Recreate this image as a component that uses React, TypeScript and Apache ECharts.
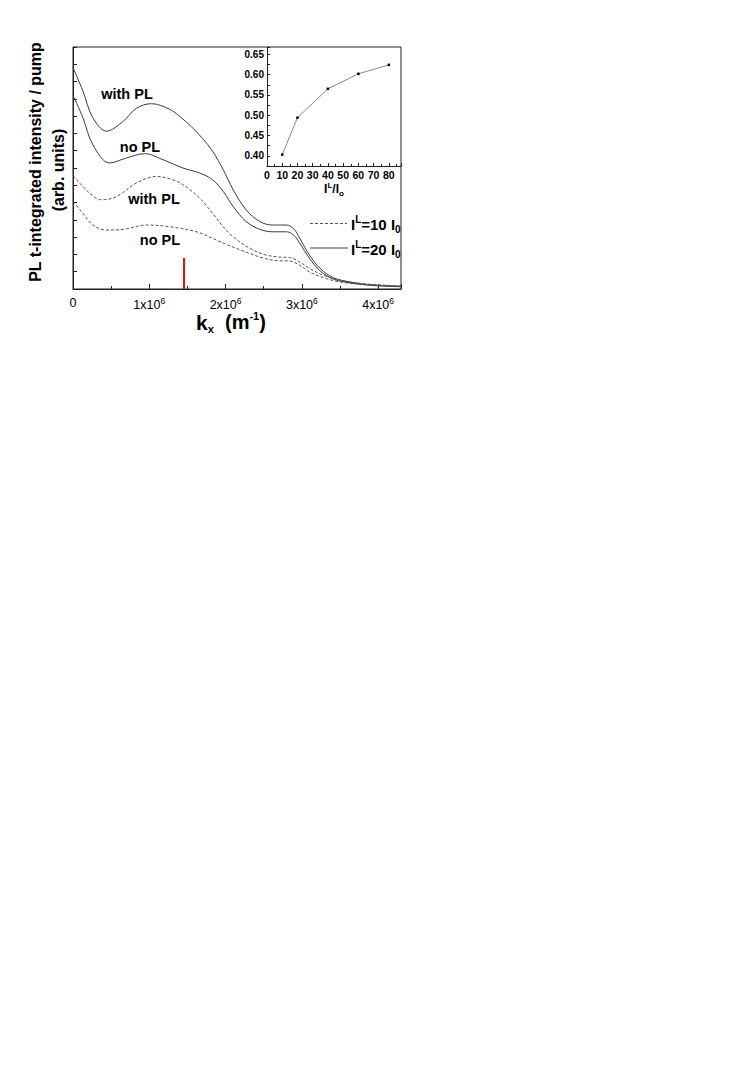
import React, { useEffect, useRef } from 'react';
import * as echarts from 'echarts';

// ---- main panel data (x in units of 1e6 m^-1, y in arb. units) ----
const solidWithPL_k = [0, 0.13, 0.26, 0.44, 0.66, 0.83, 1.03, 1.27, 1.4, 1.55, 1.7, 1.83, 1.97, 2.1, 2.27, 2.45, 2.62, 2.8, 2.9, 2.97, 3.1, 3.24, 3.41, 3.63, 3.93, 4.3];
const solidWithPL_v = [12.81, 11.45, 9.91, 9.13, 9.71, 10.45, 10.72, 10.39, 9.98, 9.4, 8.7, 7.97, 6.9, 5.74, 4.58, 3.9, 3.7, 3.7, 3.45, 2.95, 1.96, 1.19, 0.66, 0.41, 0.23, 0.16];

const solidNoPL_k = [0, 0.13, 0.26, 0.48, 0.7, 0.94, 1.18, 1.44, 1.66, 1.83, 1.97, 2.1, 2.27, 2.45, 2.62, 2.8, 2.9, 2.97, 3.1, 3.24, 3.41, 3.63, 3.93, 4.3];
const solidNoPL_v = [11.2, 9.91, 8.35, 7.29, 7.58, 7.83, 7.48, 7.0, 6.71, 6.32, 5.64, 4.77, 3.9, 3.45, 3.31, 3.31, 3.08, 2.67, 1.77, 1.05, 0.58, 0.35, 0.2, 0.13];

const dashedWithPL_k = [0, 0.13, 0.26, 0.37, 0.57, 0.83, 1.09, 1.35, 1.5, 1.66, 1.83, 1.97, 2.1, 2.3, 2.5, 2.7, 2.84, 2.97, 3.1, 3.28, 3.5, 3.8, 4.3];
const dashedWithPL_v = [6.56, 5.93, 5.39, 5.16, 5.35, 6.13, 6.51, 6.25, 5.85, 5.26, 4.38, 3.6, 3.02, 2.4, 2.0, 1.85, 1.82, 1.57, 1.19, 0.8, 0.51, 0.31, 0.17];

const dashedNoPL_k = [0, 0.13, 0.26, 0.44, 0.66, 0.96, 1.27, 1.62, 1.83, 2.0, 2.2, 2.45, 2.65, 2.84, 2.97, 3.1, 3.28, 3.5, 3.8, 4.3];
const dashedNoPL_v = [5.06, 4.38, 3.7, 3.41, 3.45, 3.7, 3.6, 3.31, 2.93, 2.6, 2.25, 1.85, 1.65, 1.62, 1.38, 0.99, 0.66, 0.41, 0.27, 0.15];

const markerK = [1.45];
const markerTop = [1.8];

// ---- inset data ----
const insetRatio = [10, 20, 40, 60, 80];
const insetValue = [0.403, 0.494, 0.565, 0.602, 0.624];

const FONT = '"Liberation Sans", Arial, sans-serif';

const zip = (xs: number[], ys: number[]) => xs.map((x, i) => [x, ys[i]]);

export default function App() {
  const ref = useRef<HTMLDivElement>(null);

  useEffect(() => {
    if (!ref.current) return;
    const chart = echarts.init(ref.current, undefined, { renderer: 'svg' });

    const lineCol = '#3a3a3a';
    const dashCol = '#555';

    const option: any = {
      animation: false,
      backgroundColor: '#fff',
      textStyle: { fontFamily: FONT },
      grid: [
        { left: 73, top: 47, width: 328, height: 242, show: true, borderColor: '#222', borderWidth: 1, backgroundColor: 'transparent' },
        { left: 267, top: 47, width: 134, height: 119, show: false },
      ],
      xAxis: [
        {
          type: 'value', gridIndex: 0, min: 0, max: 4.3, interval: 1,
          axisLine: { show: true, lineStyle: { color: '#222', width: 1 } },
          axisTick: { show: true, inside: true, length: 5, lineStyle: { color: '#222' } },
          minorTick: { show: true, splitNumber: 2, length: 3, lineStyle: { color: '#222' } },
          splitLine: { show: false },
          axisLabel: {
            margin: 7,
            formatter: (v: number) => {
              if (v === 0) return '{a|0}';
              if (Number.isInteger(v)) return `{a|${v}x10}{s|6}`;
              return '';
            },
            rich: {
              a: { fontSize: 12.5, fontFamily: FONT, color: '#000' },
              s: { fontSize: 8.5, fontFamily: FONT, color: '#000', padding: [0, 0, 9, 0] },
            },
          },
        },
        {
          type: 'value', gridIndex: 1, min: 0, max: 88, interval: 10,
          axisLine: { show: true, lineStyle: { color: '#222', width: 1 } },
          axisTick: { show: true, inside: true, length: 3, lineStyle: { color: '#222' } },
          minorTick: { show: true, splitNumber: 2, length: 2, lineStyle: { color: '#222' } },
          splitLine: { show: false },
          axisLabel: {
            margin: 3, fontSize: 10.5, fontWeight: 'bold', color: '#000', fontFamily: FONT,
            formatter: (v: number) => (Number.isInteger(v) && v <= 80 ? String(v) : ''),
          },
        },
      ],
      yAxis: [
        {
          type: 'value', gridIndex: 0, min: 0, max: 14, interval: 1,
          axisLine: { show: true, lineStyle: { color: '#222', width: 1 } },
          axisTick: { show: true, inside: true, length: 4, lineStyle: { color: '#222' } },
          axisLabel: { show: false },
          splitLine: { show: false },
        },
        {
          type: 'value', gridIndex: 1, min: 0.375, max: 0.668, interval: 0.025,
          axisLine: { show: true, lineStyle: { color: '#222', width: 1 } },
          axisTick: { show: true, inside: true, length: 3, lineStyle: { color: '#222' } },
          splitLine: { show: false },
          axisLabel: {
            margin: 3, fontSize: 10, fontWeight: 'bold', color: '#000', fontFamily: FONT,
            formatter: (v: number) => {
              const r = Math.round(v * 1000);
              if (r % 50 === 0 && v < 0.66) return (r / 1000).toFixed(2);
              return '';
            },
          },
        },
      ],
      series: [
        {
          name: 'solidWithPL', type: 'line', xAxisIndex: 0, yAxisIndex: 0, smooth: 0.35, showSymbol: false,
          data: zip(solidWithPL_k, solidWithPL_v),
          lineStyle: { color: lineCol, width: 1 },
          markLine: {
            silent: true, symbol: 'none', label: { show: false },
            lineStyle: { color: '#dd1111', width: 2, type: 'solid' },
            data: [[{ coord: [markerK[0], 0] }, { coord: [markerK[0], markerTop[0]] }]],
          },
        },
        {
          name: 'solidNoPL', type: 'line', xAxisIndex: 0, yAxisIndex: 0, smooth: 0.35, showSymbol: false,
          data: zip(solidNoPL_k, solidNoPL_v),
          lineStyle: { color: lineCol, width: 1 },
        },
        {
          name: 'dashedWithPL', type: 'line', xAxisIndex: 0, yAxisIndex: 0, smooth: 0.35, showSymbol: false,
          data: zip(dashedWithPL_k, dashedWithPL_v),
          lineStyle: { color: dashCol, width: 1, type: [3, 2] },
        },
        {
          name: 'dashedNoPL', type: 'line', xAxisIndex: 0, yAxisIndex: 0, smooth: 0.35, showSymbol: false,
          data: zip(dashedNoPL_k, dashedNoPL_v),
          lineStyle: { color: dashCol, width: 1, type: [3, 2] },
        },
        {
          name: 'inset', type: 'line', xAxisIndex: 1, yAxisIndex: 1, smooth: false,
          data: zip(insetRatio, insetValue),
          symbol: 'rect', symbolSize: 2.5, showSymbol: true,
          itemStyle: { color: '#000' },
          lineStyle: { color: '#888', width: 1 },
        },
      ],
      graphic: [
        {
          type: 'text', x: 35, y: 162, rotation: Math.PI / 2,
          style: { text: 'PL t-integrated intensity / pump', fontSize: 16, fontWeight: 'bold', fontFamily: FONT, fill: '#000', align: 'center', verticalAlign: 'middle', textAlign: 'center', textVerticalAlign: 'middle' },
        },
        {
          type: 'text', x: 58, y: 170, rotation: Math.PI / 2,
          style: { text: '(arb. units)', fontSize: 16, fontWeight: 'bold', fontFamily: FONT, fill: '#000', align: 'center', verticalAlign: 'middle', textAlign: 'center', textVerticalAlign: 'middle' },
        },
        {
          type: 'text', x: 231, y: 322,
          style: {
            text: '{k|k}{ks|x}{p|  (m}{sup|-1}{p|)}',
            align: 'center', verticalAlign: 'middle', textAlign: 'center', textVerticalAlign: 'middle',
            rich: {
              k: { fontSize: 21, fontWeight: 'bold', fontFamily: FONT, fill: '#000' },
              ks: { fontSize: 11, fontWeight: 'bold', fontFamily: FONT, fill: '#000', padding: [14, 0, 0, 0] },
              p: { fontSize: 20, fontWeight: 'bold', fontFamily: FONT, fill: '#000' },
              sup: { fontSize: 11, fontWeight: 'bold', fontFamily: FONT, fill: '#000', padding: [0, 0, 12, 0] },
            },
          },
        },
        { type: 'text', x: 127, y: 94, style: { text: 'with PL', fontSize: 14.5, fontWeight: 'bold', fontFamily: FONT, fill: '#000', align: 'center', verticalAlign: 'middle', textAlign: 'center', textVerticalAlign: 'middle' } },
        { type: 'text', x: 140, y: 147, style: { text: 'no PL', fontSize: 14.5, fontWeight: 'bold', fontFamily: FONT, fill: '#000', align: 'center', verticalAlign: 'middle', textAlign: 'center', textVerticalAlign: 'middle' } },
        { type: 'text', x: 154, y: 199, style: { text: 'with PL', fontSize: 14.5, fontWeight: 'bold', fontFamily: FONT, fill: '#000', align: 'center', verticalAlign: 'middle', textAlign: 'center', textVerticalAlign: 'middle' } },
        { type: 'text', x: 160, y: 240, style: { text: 'no PL', fontSize: 14.5, fontWeight: 'bold', fontFamily: FONT, fill: '#000', align: 'center', verticalAlign: 'middle', textAlign: 'center', textVerticalAlign: 'middle' } },
        { type: 'line', shape: { x1: 310, y1: 223.5, x2: 347, y2: 223.5 }, style: { stroke: dashCol, lineWidth: 1, lineDash: [3, 2] } },
        { type: 'line', shape: { x1: 310, y1: 248, x2: 348, y2: 248 }, style: { stroke: lineCol, lineWidth: 1 } },
        {
          type: 'text', x: 351, y: 224,
          style: {
            text: '{a|I}{sup|L}{a|=10 I}{sub|0}',
            align: 'left', verticalAlign: 'middle', textAlign: 'left', textVerticalAlign: 'middle',
            rich: {
              a: { fontSize: 15, fontWeight: 'bold', fontFamily: FONT, fill: '#000' },
              sup: { fontSize: 10, fontWeight: 'bold', fontFamily: FONT, fill: '#000', padding: [0, 0, 10, 0] },
              sub: { fontSize: 10, fontWeight: 'bold', fontFamily: FONT, fill: '#000', padding: [10, 0, 0, 0] },
            },
          },
        },
        {
          type: 'text', x: 351, y: 249,
          style: {
            text: '{a|I}{sup|L}{a|=20 I}{sub|0}',
            align: 'left', verticalAlign: 'middle', textAlign: 'left', textVerticalAlign: 'middle',
            rich: {
              a: { fontSize: 15, fontWeight: 'bold', fontFamily: FONT, fill: '#000' },
              sup: { fontSize: 10, fontWeight: 'bold', fontFamily: FONT, fill: '#000', padding: [0, 0, 10, 0] },
              sub: { fontSize: 10, fontWeight: 'bold', fontFamily: FONT, fill: '#000', padding: [10, 0, 0, 0] },
            },
          },
        },
        {
          type: 'text', x: 334, y: 189,
          style: {
            text: '{a|I}{sup|L}{a|/I}{sub|o}',
            align: 'center', verticalAlign: 'middle', textAlign: 'center', textVerticalAlign: 'middle',
            rich: {
              a: { fontSize: 12, fontWeight: 'bold', fontFamily: FONT, fill: '#000' },
              sup: { fontSize: 8, fontWeight: 'bold', fontFamily: FONT, fill: '#000', padding: [0, 0, 8, 0] },
              sub: { fontSize: 8, fontWeight: 'bold', fontFamily: FONT, fill: '#000', padding: [8, 0, 0, 0] },
            },
          },
        },
      ],
    };

    chart.setOption(option);
    return () => chart.dispose();
  }, []);

  return <div ref={ref} style={{ position: 'absolute', left: 0, top: 0, width: 751, height: 1084 }} />;
}
